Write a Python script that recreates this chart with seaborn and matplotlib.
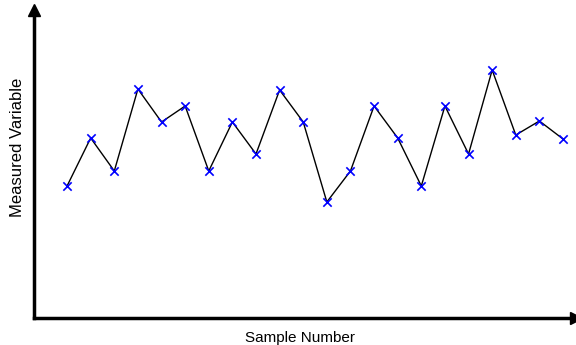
import matplotlib
matplotlib.use('Agg')
import matplotlib.pyplot as plt
import seaborn as sns
import pandas as pd

samples = list(range(1, 23))
values = [13.2, 18.0, 14.7, 22.9, 19.6, 21.2, 14.7, 19.6, 16.4, 22.8, 19.6,
          11.6, 14.7, 21.2, 18.0, 13.2, 21.2, 16.4, 24.8, 18.3, 19.7, 17.9]

df = pd.DataFrame({'Sample': samples, 'Value': values})

sns.set_style('white')
plt.rcParams['font.family'] = ['Liberation Sans', 'DejaVu Sans']

fig = plt.figure(figsize=(5.76, 3.45), dpi=100)
ax = fig.add_axes([34 / 576, 27 / 345, 542 / 576, 308 / 345])

sns.lineplot(data=df, x='Sample', y='Value', color='black', lw=1, ax=ax)
sns.scatterplot(data=df, x='Sample', y='Value', marker='x', color='blue',
                s=36, linewidth=1.2, zorder=3, ax=ax)

ax.set_xlim(-0.4, 22.55)
ax.set_ylim(0, 30.8)
ax.set_xticks([])
ax.set_yticks([])

# axes drawn as arrows
for side in ['top', 'right']:
    ax.spines[side].set_visible(False)
for side in ['left', 'bottom']:
    ax.spines[side].set_linewidth(2.5)
    ax.spines[side].set_color('black')
ax.plot(1, 0, '>k', ms=9, transform=ax.transAxes, clip_on=False)
ax.plot(0, 1, '^k', ms=9, transform=ax.transAxes, clip_on=False)

ax.set_xlabel('Sample Number', fontsize=11, color='black')
ax.xaxis.set_label_coords(0.491, -0.041)
ax.set_ylabel('Measured Variable', fontsize=12, color='black')
ax.yaxis.set_label_coords(-0.017, 0.555)

fig.savefig('out.png', dpi=100)
